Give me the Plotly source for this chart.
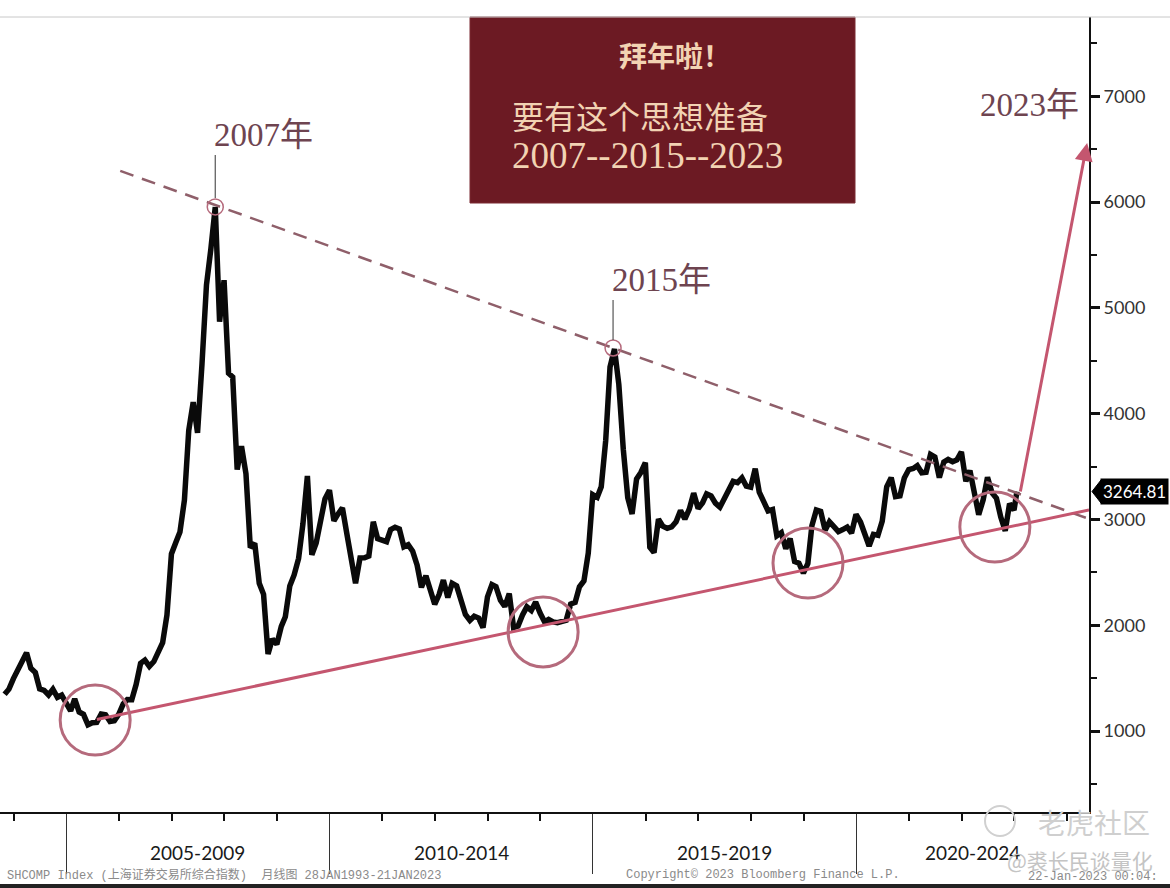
import pandas as pd
import plotly.graph_objects as go

# ---------------- data (monthly close, SHCOMP) ----------------
start_month_end = "2003-10-31"
last_date = "2023-01-20"
close = [
    1348, 1397, 1497,
    1590, 1675, 1742, 1595, 1555, 1400, 1386, 1342, 1396, 1320, 1340, 1266,
    1191, 1306, 1181, 1159, 1060, 1080, 1083, 1162, 1155, 1092, 1099, 1161,
    1258, 1299, 1298, 1440, 1641, 1672, 1612, 1658, 1752, 1837, 2099, 2675,
    2786, 2881, 3183, 3841, 4109, 3820, 4471, 5218, 5552, 5954, 4871, 5262,
    4383, 4348, 3473, 3693, 3433, 2736, 2775, 2397, 2293, 1729, 1872, 1821,
    1991, 2082, 2373, 2477, 2633, 2959, 3412, 2667, 2779, 2996, 3195, 3277,
    2989, 3051, 3110, 2871, 2592, 2398, 2638, 2639, 2656, 2979, 2820, 2808,
    2791, 2905, 2928, 2911, 2743, 2762, 2701, 2568, 2359, 2469, 2333, 2199,
    2293, 2428, 2263, 2397, 2373, 2226, 2103, 2047, 2086, 2069, 1980, 2269,
    2385, 2366, 2237, 2178, 2301, 1979, 1994, 2098, 2175, 2141, 2220, 2116,
    2033, 2056, 2033, 2026, 2039, 2048, 2202, 2217, 2364, 2420, 2683, 3235,
    3210, 3310, 3748, 4442, 4612, 4277, 3664, 3206, 3053, 3383, 3445, 3539,
    2738, 2688, 3004, 2938, 2917, 2930, 2979, 3085, 3005, 3100, 3250, 3104,
    3159, 3242, 3223, 3155, 3117, 3192, 3273, 3361, 3349, 3393, 3317, 3307,
    3481, 3259, 3169, 3082, 3095, 2847, 2876, 2725, 2821, 2603, 2588, 2494,
    2585, 2941, 3091, 3078, 2899, 2979, 2933, 2886, 2905, 2929, 2872, 3050,
    2977, 2880, 2750, 2860, 2852, 2985, 3310, 3396, 3218, 3225, 3392, 3473,
    3483, 3509, 3442, 3447, 3615, 3591, 3397, 3544, 3568, 3547, 3564, 3640,
    3361, 3463, 3252, 3047, 3186, 3399, 3253, 3202, 3024, 2893, 3151, 3089,
    3264.81,
]
last_value_label = "3264.81"

period_labels = ["2005-2009", "2010-2014", "2015-2019", "2020-2024"]
period_centers = ["2007-07-02", "2012-07-02", "2017-07-02", "2022-03-18"]

# resistance (dashed) through 2007 & 2015 peaks, support (solid) through lows
resist_x = ["2006-01-10", "2024-06-03"]
resist_y = [6295, 3006]
support_x = ["2005-08-01", "2024-06-03"]
support_y = [1110, 3090]

low_circles_x = ["2005-07-20", "2014-01-21", "2019-02-01", "2022-08-20"]
low_circles_y = [1106, 1938, 2590, 2930]
peak_circles_x = ["2007-10-31", "2015-05-21"]
peak_circles_y = [5955, 4622]
peak_labels = ["2007年", "2015年"]
peak_label_y = [6635, 5265]
peak_stem_top = [6446, 5076]
peak_stem_bot = [6040, 4698]

arrow_from = ("2023-02-11", 3251)
arrow_to = ("2024-05-21", 6560)
arrow_label = "2023年"
arrow_label_pos = ("2022-04-25", 6919)

box_lines = ["拜年啦！", "要有这个思想准备", "2007--2015--2023"]

# ---------------- figure ----------------
dates = list(pd.date_range(start_month_end, periods=len(close) - 1,
                           freq=pd.offsets.MonthEnd()))
dates.append(pd.Timestamp(last_date))

fig = go.Figure()
fig.add_trace(go.Scatter(x=dates, y=close, mode="lines",
                         line=dict(color="#0a0a0a", width=5.5),
                         hoverinfo="skip", showlegend=False))

SERIF = "Liberation Serif, Noto Sans CJK SC, serif"
LABEL_COLOR = "#6e4450"
PINK = "#c4566f"
MAUVE = "#b56a7c"

shapes = []
shapes.append(dict(type="line", xref="x", yref="y",
                   x0=resist_x[0], y0=resist_y[0], x1=resist_x[1], y1=resist_y[1],
                   line=dict(color="#8f5f6a", width=2.5, dash="14px,9px")))
shapes.append(dict(type="line", xref="x", yref="y",
                   x0=support_x[0], y0=support_y[0], x1=support_x[1], y1=support_y[1],
                   line=dict(color=PINK, width=3)))
for cx, cy in zip(low_circles_x, low_circles_y):
    shapes.append(dict(type="circle", xref="x", yref="y",
                       xsizemode="pixel", ysizemode="pixel",
                       xanchor=cx, yanchor=cy, x0=-35, x1=35, y0=-35, y1=35,
                       line=dict(color=MAUVE, width=3)))
for cx, cy, st, sb in zip(peak_circles_x, peak_circles_y, peak_stem_top, peak_stem_bot):
    shapes.append(dict(type="circle", xref="x", yref="y",
                       xsizemode="pixel", ysizemode="pixel",
                       xanchor=cx, yanchor=cy, x0=-8, x1=8, y0=-8, y1=8,
                       line=dict(color=MAUVE, width=1.5)))
    shapes.append(dict(type="line", xref="x", yref="y", x0=cx, x1=cx, y0=st, y1=sb,
                       line=dict(color="#555", width=1.2)))
shapes.append(dict(type="rect", xref="paper", yref="paper",
                   x0=470 / 1089, x1=855 / 1089, y0=(812 - 203) / 795, y1=1.0,
                   fillcolor="#6c1a23", line=dict(color="#7a2a33", width=1), layer="above"))
shapes.append(dict(type="line", xref="paper", yref="paper", x0=0, x1=1170 / 1089,
                   y0=1.0, y1=1.0, line=dict(color="#c8c8c8", width=1)))
shapes.append(dict(type="path", xref="paper", yref="y", xsizemode="pixel",
                   ysizemode="pixel", xanchor=1.0, yanchor=close[-1],
                   path="M 3,0 L 12,11.5 L 12,-11.5 Z",
                   fillcolor="#000", line=dict(color="#000", width=1)))
shapes.append(dict(type="circle", xref="paper", yref="paper", xsizemode="pixel",
                   ysizemode="pixel", xanchor=1000 / 1089, yanchor=(812 - 821) / 795,
                   x0=-15, x1=15, y0=-15, y1=15,
                   line=dict(color="#d0d0d0", width=2)))
shapes.append(dict(type="rect", xref="paper", yref="paper", x0=-0.01, x1=1.08,
                   y0=(812 - 890) / 795, y1=(812 - 884) / 795,
                   fillcolor="#222", line=dict(width=0)))

annotations = []
for lbl, cx in zip(period_labels, period_centers):
    annotations.append(dict(x=cx, xref="x", y=(812 - 852) / 795, yref="paper",
                            text=lbl, showarrow=False, yanchor="middle",
                            font=dict(family="Lato, Open Sans, sans-serif", size=19,
                                      color="#1a1a1a")))
for lbl, cx, ly in zip(peak_labels, peak_circles_x, peak_label_y):
    annotations.append(dict(x=cx, xref="x", y=ly, yref="y", text=lbl,
                            showarrow=False, xanchor="left", yanchor="middle",
                            xshift=-3,
                            font=dict(family=SERIF, size=33, color=LABEL_COLOR)))
annotations.append(dict(x=arrow_label_pos[0], xref="x", y=arrow_label_pos[1], yref="y",
                        text=arrow_label, showarrow=False, xanchor="left",
                        yanchor="middle",
                        font=dict(family=SERIF, size=33, color=LABEL_COLOR)))
annotations.append(dict(x=arrow_to[0], y=arrow_to[1], xref="x", yref="y",
                        ax=arrow_from[0], ay=arrow_from[1], axref="x", ayref="y",
                        text="", showarrow=True, arrowhead=2, arrowsize=1.2,
                        arrowwidth=3, arrowcolor=PINK))
annotations.append(dict(x=675 / 1089, y=(812 - 55) / 795, xref="paper", yref="paper",
                        text="<b>" + box_lines[0] + "</b>", showarrow=False,
                        xanchor="center", yanchor="middle",
                        font=dict(family="Noto Sans CJK SC, serif", size=28,
                                  color="#f2d3b3")))
annotations.append(dict(x=510 / 1089, y=(812 - 118) / 795, xref="paper", yref="paper",
                        text=box_lines[1], showarrow=False, xanchor="left",
                        yanchor="middle",
                        font=dict(family=SERIF, size=32, color="#f2d3b3")))
annotations.append(dict(x=510 / 1089, y=(812 - 156) / 795, xref="paper", yref="paper",
                        text=box_lines[2], showarrow=False, xanchor="left",
                        yanchor="middle",
                        font=dict(family=SERIF, size=37, color="#f2d3b3")))
annotations.append(dict(x=1.0, xref="paper", y=close[-1], yref="y",
                        text=last_value_label, showarrow=False, xanchor="left",
                        yanchor="middle", xshift=11, bgcolor="#000", borderpad=2,
                        font=dict(family="Lato, Open Sans, sans-serif", size=17,
                                  color="#ffffff")))
MONO = "Liberation Mono, DejaVu Sans Mono, Noto Sans CJK SC, monospace"
annotations.append(dict(x=5 / 1089, y=(812 - 875) / 795, xref="paper", yref="paper",
                        text="SHCOMP Index (上海证券交易所综合指数)  月线图 28JAN1993-21JAN2023",
                        showarrow=False, xanchor="left", yanchor="middle",
                        font=dict(family=MONO, size=12, color="#8a8a8a")))
annotations.append(dict(x=624 / 1089, y=(812 - 875) / 795, xref="paper", yref="paper",
                        text="Copyright© 2023 Bloomberg Finance L.P.",
                        showarrow=False, xanchor="left", yanchor="middle",
                        font=dict(family=MONO, size=12, color="#8a8a8a")))
annotations.append(dict(x=1026 / 1089, y=(812 - 877) / 795, xref="paper", yref="paper",
                        text="22-Jan-2023 00:04:",
                        showarrow=False, xanchor="left", yanchor="middle",
                        font=dict(family=MONO, size=12, color="#8a8a8a")))
annotations.append(dict(x=1036 / 1089, y=(812 - 822) / 795, xref="paper", yref="paper",
                        text="老虎社区", showarrow=False, xanchor="left",
                        yanchor="middle",
                        font=dict(family="Noto Sans CJK SC", size=28, color="#cfcfcf")))
annotations.append(dict(x=1005 / 1089, y=(812 - 860) / 795, xref="paper", yref="paper",
                        text="@裘长民谈量化", showarrow=False, xanchor="left",
                        yanchor="middle",
                        font=dict(family="Noto Sans CJK SC", size=21, color="#c4c4c4")))

fig.update_layout(
    width=1170, height=888,
    margin=dict(l=0, r=81, t=17, b=76, autoexpand=False),
    paper_bgcolor="#ffffff", plot_bgcolor="#ffffff",
    showlegend=False,
    shapes=shapes, annotations=annotations,
    xaxis=dict(type="date", range=["2003-09-29", "2024-06-03"],
               showgrid=False, zeroline=False, showline=True,
               linecolor="#111", linewidth=2,
               tickmode="linear", tick0="2005-01-01", dtick="M60",
               ticks="outside", ticklen=60, tickwidth=1, tickcolor="#333",
               showticklabels=False,
               minor=dict(ticks="outside", tick0="2004-01-01", dtick="M12",
                          ticklen=7, tickwidth=2, tickcolor="#111", showgrid=False)),
    yaxis=dict(side="right", range=[236, 7750], tickmode="linear", tick0=0,
               dtick=1000, showgrid=False, zeroline=False, showline=True,
               linecolor="#111", linewidth=2, ticks="outside", ticklen=9,
               tickwidth=3, tickcolor="#111",
               tickfont=dict(family="Lato, Open Sans, sans-serif", size=18,
                             color="#333"),
               minor=dict(ticks="outside", dtick=500, tick0=0, ticklen=6,
                          tickwidth=1.5, tickcolor="#111", showgrid=False)),
)

fig.write_html("out.html", config={"displayModeBar": False},
               post_script="document.body.style.margin='0';document.body.style.overflow='hidden';")
